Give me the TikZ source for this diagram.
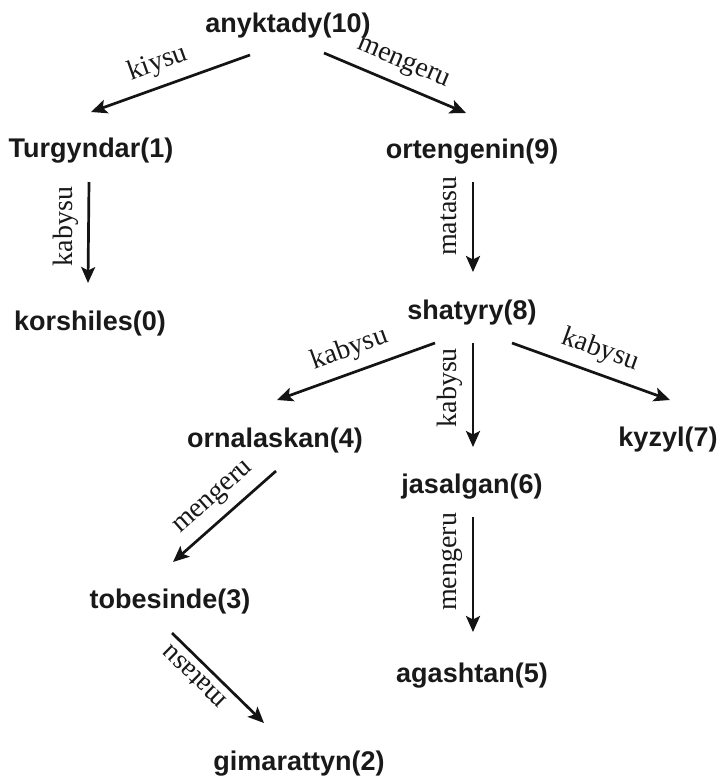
\documentclass[tikz,border=0pt]{standalone}
\usepackage{fontspec}
\setmainfont{Liberation Serif}
\newfontfamily\nodefont{Liberation Sans}
\usetikzlibrary{arrows.meta}
\begin{document}
\begin{tikzpicture}[x=1pt,y=-1pt,
  word/.style={font=\nodefont\bfseries\fontsize{27}{27}\selectfont, inner sep=0pt, anchor=base, text=black!90},
  arr/.style={line width=2.7pt, draw=black!92, -{Stealth[length=16pt,width=14pt,inset=3.5pt]}},
  arrl/.style={line width=2.7pt, draw=black!92, {Stealth[length=16pt,width=14pt,inset=3.5pt]}-},
  labbase/.style={font=\fontsize{28}{28}\selectfont, text=black!90, above, inner xsep=0pt, inner ysep=15pt, text depth=0pt},
  lab/.style={labbase, sloped},
  labv/.style={labbase, rotate=90}]
\useasboundingbox[fill=white] (0,0) rectangle (722,780);
\node[word] (a10) at (288,32) {anyktady(10)};
\node[word] (n1) at (91,157) {Turgyndar(1)};
\node[word] (n9) at (472,158) {ortengenin(9)};
\node[word] (n0) at (90,330) {korshiles(0)};
\node[word] (n8) at (472,319) {shatyry(8)};
\node[word] (n4) at (275,447) {ornalaskan(4)};
\node[word] (n7) at (668,446) {kyzyl(7)};
\node[word] (n6) at (472,493) {jasalgan(6)};
\node[word] (n3) at (170,608) {tobesinde(3)};
\node[word] (n5) at (472,682) {agashtan(5)};
\node[word] (n2) at (299,770) {gimarattyn(2)};
\draw[arr] ([shift={(-38,23)}]a10.base) -- node[lab,pos=0.53]{kiysu} ([shift={(0,-45)}]n1.base);
\draw[arr] ([shift={(36,21)}]a10.base) -- node[lab,pos=0.5]{mengeru} ([shift={(-6,-45)}]n9.base);
\draw[arr] ([shift={(-2,25)}]n1.base) -- node[labv,pos=0.44]{kabysu} ([shift={(-2,-47)}]n0.base);
\draw[arr] ([shift={(1,24)}]n9.base) -- node[labv,pos=0.38]{matasu} ([shift={(1,-47)}]n8.base);
\draw[arr] ([shift={(-37,24)}]n8.base) -- node[lab,pos=0.49]{kabysu} ([shift={(2,-47)}]n4.base);
\draw[arr] ([shift={(1,24)}]n8.base) -- node[labv,pos=0.43]{kabysu} ([shift={(1,-46)}]n6.base);
\draw[arr] ([shift={(40,24)}]n8.base) -- node[lab,pos=0.51]{kabysu} ([shift={(2,-46)}]n7.base);
\draw[arr] ([shift={(1,24)}]n4.base) -- node[lab,pos=0.47]{mengeru} ([shift={(3,-46)}]n3.base);
\draw[arr] ([shift={(1,24)}]n6.base) -- node[labv,pos=0.39]{mengeru} ([shift={(1,-50)}]n5.base);
\draw[arrl] ([shift={(-35,-47)}]n2.base) -- node[lab,pos=0.64,allow upside down,inner ysep=7pt]{matasu} ([shift={(2,25)}]n3.base);
\end{tikzpicture}
\end{document}
